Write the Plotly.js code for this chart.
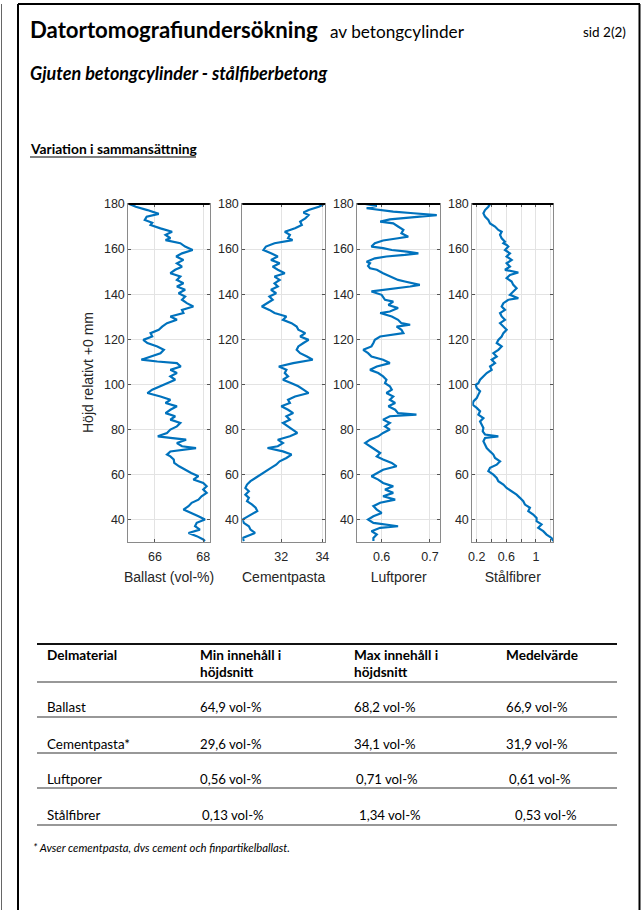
<!DOCTYPE html>
<html><head><meta charset="utf-8">
<script src="https://cdn.plot.ly/plotly-3.0.1.min.js"></script>
<style>html,body{margin:0;padding:0;background:#fff;}#chart{width:642px;height:910px;}</style>
</head><body><div id="chart"></div>
<script>
// ---------- DATA ----------
const heightsBallast = [180.0,178.8,177.3,175.6,174.4,172.9,171.7,170.7,169.2,167.7,166.3,164.8,164.0,162.6,161.1,159.6,158.1,156.7,155.2,153.7,152.2,150.8,149.3,147.8,146.3,144.8,143.4,141.9,140.4,138.9,137.5,136.0,134.5,133.0,131.6,130.1,128.6,127.1,125.6,124.2,122.7,121.2,119.7,118.3,116.8,115.3,113.8,112.3,110.9,110.1,109.4,107.9,106.4,105.0,103.5,102.0,100.5,99.1,97.6,96.1,94.6,93.1,91.7,90.2,88.7,87.2,85.8,84.3,82.8,81.3,79.9,78.4,76.9,76.2,75.4,73.9,72.5,71.7,70.2,68.8,68.0,66.6,65.1,63.6,62.1,60.6,59.2,57.7,56.2,54.7,53.3,51.8,50.3,48.8,47.4,45.9,44.4,42.9,41.4,40.0,38.5,37.0,35.5,34.0,32.6,31.1,30.4];
const ballast = [64.94,65.21,65.69,66.16,65.66,65.58,65.89,65.82,66.23,66.71,66.44,66.64,66.44,67.05,67.25,67.56,67.12,66.88,67.18,66.91,67.12,66.84,66.64,67.05,66.91,67.18,66.91,67.25,66.98,67.25,67.12,67.32,67.59,67.12,67.18,66.64,66.91,66.50,66.30,66.16,65.82,65.89,65.52,65.69,66.10,66.37,66.23,65.82,65.44,66.10,66.91,67.07,66.64,66.91,66.64,66.84,66.50,66.16,65.89,65.69,66.23,66.64,66.44,66.91,66.64,66.44,66.84,66.64,67.05,66.91,66.64,66.50,66.12,66.64,67.29,66.91,67.12,67.70,66.64,66.50,66.64,66.78,66.80,67.00,67.25,67.50,67.80,67.59,68.00,68.14,68.00,68.14,67.93,67.80,67.52,67.39,67.18,67.52,67.80,68.07,67.73,67.66,67.86,67.39,67.73,68.00,68.07];

const heightsCement = [180.0,178.8,177.3,176.2,175.1,173.6,172.2,170.7,169.2,167.7,166.3,164.8,164.0,162.6,161.1,159.6,158.1,156.7,155.2,153.7,152.2,150.8,149.3,147.8,146.3,144.8,143.4,141.9,140.4,138.9,137.5,136.0,134.5,133.0,131.6,130.1,128.6,127.1,125.6,124.2,122.7,121.2,119.7,118.3,116.8,115.3,113.8,112.3,110.9,109.4,107.9,106.4,105.0,103.5,102.0,100.5,99.1,97.6,96.1,94.6,93.1,91.7,90.2,88.7,87.2,85.8,84.3,82.8,81.3,79.9,78.4,76.9,75.4,73.9,72.5,71.7,70.2,68.8,67.3,65.8,64.3,62.9,61.4,59.9,58.4,57.0,55.5,54.0,52.5,51.0,49.6,48.1,46.6,45.2,43.7,42.2,40.7,40.0,38.5,37.0,35.5,34.0,32.6,31.8,30.4];
const cementpasta = [34.08,33.83,33.33,33.08,33.33,33.17,32.92,33.00,32.67,32.17,32.42,32.33,32.55,31.67,31.25,31.13,31.50,31.83,31.50,31.92,31.58,31.83,32.17,31.67,31.92,31.67,31.83,31.50,31.75,31.42,31.58,31.33,31.05,31.42,31.67,32.25,32.08,32.50,32.75,32.83,33.17,32.92,33.33,33.08,32.83,32.75,32.92,33.25,33.53,32.58,31.88,32.25,32.17,32.33,32.08,32.50,32.83,33.08,33.33,32.67,32.33,32.42,32.00,32.33,32.58,32.25,32.42,32.08,32.33,32.58,32.78,32.42,31.83,32.08,31.83,31.33,32.08,32.50,32.25,31.92,31.75,31.50,31.25,31.00,30.75,30.50,30.33,30.25,30.42,30.25,30.42,30.33,30.58,30.75,30.83,30.50,30.25,30.12,30.17,30.42,30.50,30.72,30.33,30.12,30.17];

const heightsLuft = [180.0,179.1,178.1,177.3,176.6,175.9,175.6,175.1,174.4,173.2,172.2,171.4,170.0,168.5,167.0,165.5,164.8,163.8,162.6,161.1,160.4,159.6,158.9,158.1,157.4,156.7,155.9,155.2,154.4,153.7,152.5,151.5,150.8,149.3,147.8,146.3,145.6,144.8,144.1,143.4,142.6,141.9,141.2,139.7,138.9,137.5,136.7,135.2,133.8,132.3,131.6,130.1,128.6,127.1,126.4,125.6,124.2,122.7,121.2,119.7,118.3,116.8,115.3,113.8,112.3,110.9,109.4,107.9,106.4,105.0,103.5,102.0,100.5,99.1,97.6,96.1,94.6,93.1,91.7,90.2,88.7,87.2,86.5,85.8,84.3,82.8,81.3,79.9,78.4,76.9,75.4,73.9,72.5,71.0,69.5,68.0,66.6,65.1,63.6,62.1,60.6,59.2,57.7,56.2,54.7,53.3,51.8,50.3,48.8,47.4,45.9,44.4,42.9,41.4,40.0,38.5,37.0,36.3,34.8,33.3,31.8,30.4];
const luftporer = [0.566,0.590,0.569,0.593,0.624,0.666,0.686,0.714,0.679,0.617,0.597,0.624,0.634,0.645,0.641,0.655,0.634,0.603,0.586,0.579,0.603,0.621,0.652,0.676,0.648,0.610,0.586,0.576,0.569,0.576,0.572,0.576,0.590,0.603,0.617,0.634,0.648,0.666,0.679,0.659,0.631,0.597,0.579,0.600,0.603,0.607,0.624,0.614,0.634,0.617,0.597,0.621,0.634,0.641,0.659,0.631,0.641,0.645,0.597,0.586,0.583,0.579,0.562,0.572,0.579,0.603,0.617,0.590,0.576,0.593,0.603,0.610,0.607,0.617,0.621,0.610,0.624,0.617,0.628,0.614,0.628,0.634,0.672,0.617,0.603,0.617,0.607,0.617,0.603,0.593,0.576,0.566,0.576,0.586,0.597,0.590,0.603,0.621,0.631,0.603,0.590,0.579,0.593,0.603,0.624,0.607,0.624,0.603,0.628,0.597,0.583,0.590,0.600,0.583,0.572,0.583,0.634,0.597,0.579,0.590,0.583,0.583];

const heightsFiber = [180.0,178.8,177.3,175.9,174.4,172.9,171.4,170.0,168.5,167.7,166.3,164.8,163.3,162.6,161.8,161.1,159.6,158.1,156.7,155.2,153.7,152.2,150.8,149.6,148.5,147.1,145.6,144.1,142.6,141.2,139.7,138.2,137.5,136.0,134.5,133.0,131.6,130.1,128.6,127.1,125.6,124.2,122.7,121.2,119.7,118.3,116.8,115.3,113.8,112.3,110.9,109.4,107.9,106.4,105.0,103.5,102.0,100.5,99.8,98.3,96.9,95.4,93.9,92.4,90.9,89.5,88.0,86.5,85.0,83.5,82.1,80.6,79.1,77.7,76.9,76.2,74.7,73.2,71.7,70.2,68.8,67.3,65.8,65.1,64.3,62.9,61.4,59.9,58.4,57.0,55.5,54.0,52.5,51.0,49.6,48.1,46.6,45.2,43.7,42.2,40.7,39.2,37.8,36.3,34.8,33.3,31.8,30.4];
const stalfibrer = [0.380,0.357,0.312,0.290,0.312,0.357,0.380,0.447,0.492,0.537,0.515,0.537,0.582,0.560,0.604,0.627,0.582,0.649,0.604,0.672,0.604,0.649,0.582,0.762,0.649,0.604,0.672,0.694,0.739,0.694,0.649,0.762,0.627,0.560,0.537,0.582,0.515,0.537,0.582,0.515,0.560,0.604,0.560,0.537,0.492,0.470,0.537,0.492,0.425,0.470,0.402,0.447,0.380,0.402,0.335,0.290,0.245,0.222,0.187,0.200,0.245,0.222,0.200,0.155,0.146,0.200,0.245,0.222,0.290,0.245,0.267,0.290,0.281,0.312,0.492,0.312,0.290,0.312,0.335,0.380,0.425,0.447,0.515,0.492,0.470,0.380,0.357,0.425,0.470,0.492,0.560,0.604,0.672,0.739,0.784,0.829,0.852,0.919,0.897,0.964,1.009,1.009,1.076,1.031,1.099,1.144,1.211,1.234];

const axisLabels = ['Ballast (vol-%)','Cementpasta','Luftporer','Stålfibrer'];
const xTickVals = [[66,68],[32,34],[0.6,0.7],[0.2,0.4,0.6,0.8,1.0,1.2]];
const xTickText = [['66','68'],['32','34'],['0.6','0.7'],['0.2','','0.6','','1','']];
const xRanges = [[64.9,68.27],[30.1,34.13],[0.5497,0.7207],[0.14,1.235]];
const yTickVals = [40,60,80,100,120,140,160,180];

const tableHeader = [['Delmaterial'],['Min innehåll i','höjdsnitt'],['Max innehåll i','höjdsnitt'],['Medelvärde']];
const tableNames = ['Ballast','Cementpasta*','Luftporer','Stålfibrer'];
const tableMin = ['64,9 vol-%','29,6 vol-%','0,56 vol-%','0,13 vol-%'];
const tableMax = ['68,2 vol-%','34,1 vol-%','0,71 vol-%','1,34 vol-%'];
const tableMean = ['66,9 vol-%','31,9 vol-%','0,61 vol-%','0,53 vol-%'];

// ---------- LAYOUT ----------
const W=642, H=910;
const px = x => x/W, py = y => 1 - y/H;
const plotX = [[128.3,209.8],[242.3,325],[357.3,440],[472.3,553.3]];
const plotTop = 204, plotBot = 542;
const tickFont = {family:'Liberation Sans, Arial, sans-serif', size:12.5, color:'#262626'};
const series = [[ballast,heightsBallast],[cementpasta,heightsCement],[luftporer,heightsLuft],[stalfibrer,heightsFiber]];

const traces = [];
const layout = {
  width:W, height:H, margin:{l:0,r:0,t:0,b:0}, paper_bgcolor:'#fff', plot_bgcolor:'#fff',
  showlegend:false, annotations:[], shapes:[]
};
series.forEach((s,i)=>{
  const n = i===0 ? '' : String(i+1);
  traces.push({type:'scatter', mode:'lines', x:s[0], y:s[1], xaxis:'x'+n, yaxis:'y'+n,
    line:{color:'#0072BD', width:2.2}, hoverinfo:'skip'});
  const common = {showgrid:true, gridcolor:'#e3e3e3', gridwidth:1, zeroline:false, showline:true,
    linecolor:'#8a8a8a', linewidth:1, mirror:'ticks', ticks:'inside', ticklen:3, tickcolor:'#555',
    tickfont:tickFont, fixedrange:true};
  layout['xaxis'+n] = Object.assign({}, common, {
    domain:[px(plotX[i][0]), px(plotX[i][1])], range:xRanges[i], anchor:'y'+n,
    tickmode:'array', tickvals:xTickVals[i], ticktext:xTickText[i], ticklabelstandoff:3,
    title:{text:axisLabels[i], font:{family:'Liberation Sans, Arial, sans-serif', size:14, color:'#262626'}, standoff:9}
  });
  layout['yaxis'+n] = Object.assign({}, common, {
    domain:[py(plotBot), py(plotTop)], range:[30,180], anchor:'x'+n,
    tickmode:'array', tickvals:yTickVals
  });
  layout.shapes.push({type:'line', xref:'x'+n+' domain', yref:'y'+n+' domain', x0:0, x1:1, y0:1, y1:1,
    line:{color:'#000', width:2}});
});

layout.annotations.push({text:'Höjd relativt +0 mm', xref:'paper', yref:'paper', x:px(88), y:py(372),
  xanchor:'center', yanchor:'middle',
  textangle:-90, showarrow:false, font:{family:'Liberation Sans, Arial, sans-serif', size:14, color:'#262626'}});

const doc = 'Lato, "Open Sans", sans-serif';
function txt(t, x, y, size, opts){
  layout.annotations.push(Object.assign({text:t, xref:'paper', yref:'paper', x:px(x), y:py(y),
    xanchor:'left', yanchor:'middle', showarrow:false, font:{family:doc, size:size, color:'#000'}}, opts||{}));
}
txt('<b>Datortomografiundersökning</b>', 28, 30, 22.2);
txt('av betongcylinder', 328, 32, 17.2);
txt('sid 2(2)', 628, 32, 13.5, {xanchor:'right'});
txt('<b><i>Gjuten betongcylinder - stålfiberbetong</i></b>', 28, 73, 18);
txt('<b>Variation i sammansättning</b>', 28, 149, 13.8);
layout.shapes.push({type:'line', xref:'paper', yref:'paper', x0:px(30), x1:px(196), y0:py(157), y1:py(157), line:{color:'#000', width:1}});

// table
const colX = [45, 198, 352, 504];
tableHeader.forEach((lines,c)=>{ lines.forEach((l,k)=> txt('<b>'+l+'</b>', colX[c], 655+k*17, 13.6)); });
const rowY = [707, 744, 779, 815];
const shiftMax = [0,0,2,5], shiftMean = [0,0,3,9], shiftMin = [0,0,0,2];
tableNames.forEach((nm,r)=>{
  txt(nm, colX[0], rowY[r], 13.4);
  txt(tableMin[r], colX[1]+shiftMin[r], rowY[r], 13.2);
  txt(tableMax[r], colX[2]+shiftMax[r], rowY[r], 13.2);
  txt(tableMean[r], colX[3]+shiftMean[r], rowY[r], 13.2);
});
const lineY = [644, 682, 717, 753, 788, 825];
lineY.forEach((y,k)=> layout.shapes.push({type:'line', xref:'paper', yref:'paper', x0:px(37), x1:px(617), y0:py(y), y1:py(y),
  line:{color: k===0 ? '#111' : '#333', width: k===0 ? 1.8 : 1.2}}));
txt('<i>* Avser cementpasta, dvs cement och finpartikelballast.</i>', 31, 847, 11.3);

// page borders
const border = (x0,y0,x1,y1,w,c)=> layout.shapes.push({type:'line', xref:'paper', yref:'paper', x0:px(x0), x1:px(x1), y0:py(y0), y1:py(y1), line:{color:c, width:w}});
border(1.5,4,1.5,910,1,'#666');
border(18,4,18,910,2,'#000');
border(18,4,640,4,2,'#000');
border(639.5,4,639.5,910,2,'#000');

Plotly.newPlot('chart', traces, layout, {staticPlot:true, displayModeBar:false});
</script>
</body></html>
